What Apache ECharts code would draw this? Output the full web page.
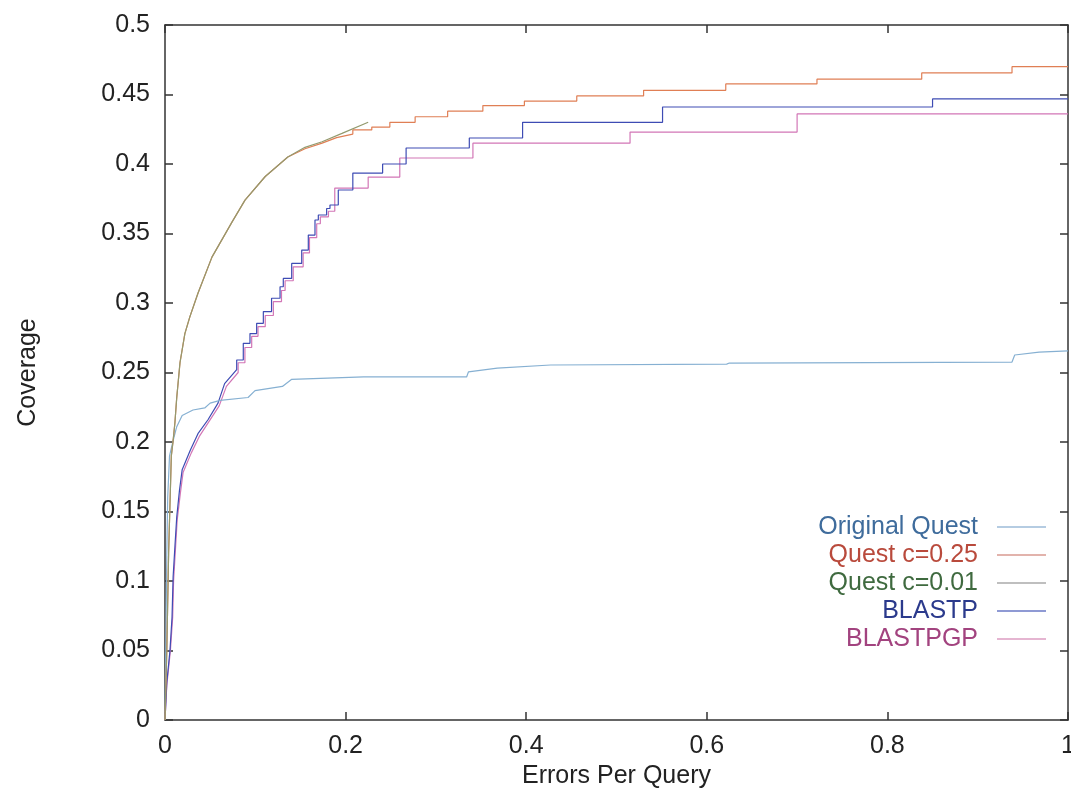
<!DOCTYPE html>
<html>
<head>
<meta charset="utf-8">
<script src="https://cdn.jsdelivr.net/npm/echarts@6/dist/echarts.min.js"></script>
<style>
html,body{margin:0;padding:0;background:#ffffff;}
#chart{width:1071px;height:791px;}
</style>
</head>
<body>
<div id="chart"></div>
<script>
// ---- Data ----
const seriesNames = ["Original Quest", "Quest c=0.25", "Quest c=0.01", "BLASTP", "BLASTPGP"];

// Original Quest: [errors per query, coverage] vertices
const originalQuest = [
  [0,0],[0.001,0.06],[0.002,0.12],[0.003,0.16],[0.005,0.19],[0.009,0.201],[0.013,0.211],
  [0.019,0.219],[0.031,0.223],[0.044,0.2245],[0.05,0.228],[0.061,0.230],[0.092,0.232],
  [0.0997,0.237],[0.13,0.240],[0.14,0.245],[0.22,0.2468],[0.334,0.2468],[0.336,0.2504],
  [0.368,0.2532],[0.427,0.2554],[0.622,0.256],[0.625,0.2568],[0.938,0.2575],[0.941,0.2626],
  [0.968,0.2647],[1.0,0.2655]
];

// Quest c=0.01 (ends near 0.225)
const questC001 = [
  [0,0],[0.002,0.05],[0.004,0.12],[0.007,0.19],[0.009,0.201],[0.011,0.214],[0.013,0.232],
  [0.0166,0.257],[0.022,0.278],[0.0275,0.29],[0.0365,0.307],[0.052,0.333],[0.074,0.358],
  [0.0886,0.374],[0.111,0.391],[0.136,0.405],[0.155,0.412],[0.174,0.416],[0.196,0.422],[0.225,0.430]
];

// Quest c=0.25: smooth start, then a staircase
const questC025Smooth = [
  [0,0],[0.002,0.05],[0.004,0.12],[0.007,0.19],[0.009,0.201],[0.011,0.214],[0.013,0.232],
  [0.0166,0.257],[0.022,0.278],[0.0275,0.29],[0.0365,0.307],[0.052,0.333],[0.074,0.358],
  [0.0886,0.374],[0.111,0.391],[0.136,0.405],[0.155,0.411],[0.174,0.415],[0.19,0.419],[0.208,0.4215]
];
const questC025StepX = [0.208, 0.229, 0.249, 0.277, 0.313, 0.352, 0.398, 0.456, 0.530, 0.621, 0.722, 0.838, 0.938];
const questC025StepY = [0.4245, 0.4266, 0.430, 0.434, 0.438, 0.442, 0.4453, 0.449, 0.453, 0.4576, 0.461, 0.4655, 0.470];

// BLASTP: smooth start, then a staircase (value jumps at x)
const blastpSmooth = [
  [0,0],[0.002,0.027],[0.0055,0.05],[0.0078,0.074],[0.009,0.103],[0.011,0.125],[0.013,0.146],
  [0.016,0.165],[0.019,0.18],[0.028,0.194],[0.0365,0.206],[0.0476,0.216],[0.0587,0.228],[0.066,0.242],[0.0794,0.252]
];
const blastpStepX = [0.0794,0.0867,0.0941,0.1015,0.1089,0.118,0.1274,0.131,0.1403,0.1514,0.1587,0.1661,0.1698,0.179,0.1827,0.1919,0.208,0.241,0.267,0.337,0.396,0.551,0.850];
const blastpStepY = [0.259,0.271,0.278,0.2854,0.2938,0.3034,0.3117,0.3177,0.3285,0.3381,0.3489,0.3597,0.3633,0.368,0.3705,0.3813,0.3935,0.400,0.4115,0.4187,0.430,0.441,0.4468];

// BLASTPGP
const blastpgpSmooth = [
  [0,0],[0.002,0.025],[0.006,0.05],[0.0085,0.074],[0.0095,0.10],[0.0115,0.122],[0.0135,0.144],
  [0.017,0.163],[0.02,0.178],[0.029,0.192],[0.038,0.204],[0.049,0.215],[0.06,0.226],[0.068,0.240],[0.081,0.250]
];
const blastpgpStepX = [0.081,0.0885,0.096,0.103,0.111,0.12,0.129,0.133,0.142,0.153,0.16,0.168,0.172,0.181,0.188,0.225,0.260,0.341,0.515,0.700];
const blastpgpStepY = [0.257,0.268,0.276,0.283,0.291,0.301,0.309,0.316,0.326,0.336,0.347,0.357,0.362,0.366,0.3827,0.3906,0.4043,0.415,0.423,0.436];

const xTickMin = 0, xTickMax = 1, xTickStep = 0.2;
const yTickMin = 0, yTickMax = 0.5, yTickStep = 0.05;

// ---- Build vertex lists ----
function withStairs(smooth, sx, sy, xEnd) {
  const pts = smooth.slice();
  let prev = pts[pts.length - 1][1];
  for (let i = 0; i < sx.length; i++) {
    pts.push([sx[i], prev]);
    pts.push([sx[i], sy[i]]);
    prev = sy[i];
  }
  pts.push([xEnd, prev]);
  return pts;
}
const questC025 = withStairs(questC025Smooth, questC025StepX, questC025StepY, 1.0);
const blastp = withStairs(blastpSmooth, blastpStepX, blastpStepY, 1.0);
const blastpgp = withStairs(blastpgpSmooth, blastpgpStepX, blastpgpStepY, 1.0);

const lineColors = ["#86b0d2", "#e07f55", "#939a6e", "#3e4cb4", "#d276b6"];
const legendLineColors = ["#9dbbd8", "#d99a90", "#aaaaaa", "#6a78c6", "#dc9cc2"];
const textColors = ["#3f6c9c", "#b94a3c", "#3f6a3f", "#2b3a8c", "#a2437f"];
const zOrder = [3, 4, 5, 2, 1];
const dataSets = [originalQuest, questC025, questC001, blastp, blastpgp];

const FONT = "'Liberation Sans', Arial, Helvetica, sans-serif";
const chart = echarts.init(document.getElementById('chart'), null, {renderer: 'canvas'});

const axisLineStyle = {color: '#333', width: 1.5};
const option = {
  backgroundColor: '#ffffff',
  animation: false,
  grid: {left: 165, right: 3, top: 25, bottom: 71, containLabel: false, outerBoundsMode: 'none'},
  legend: {
    orient: 'vertical',
    right: 20,
    top: 508,
    align: 'right',
    icon: 'rect',
    itemWidth: 49,
    itemHeight: 1.5,
    itemGap: 0,
    textStyle: {fontFamily: FONT, fontSize: 25, lineHeight: 28, padding: [0, 14, 0, 0]},
    data: seriesNames.map((n, i) => ({
      name: n,
      textStyle: {color: textColors[i]},
      itemStyle: {color: legendLineColors[i]}
    }))
  },
  xAxis: [{
    type: 'value', min: xTickMin, max: xTickMax, interval: xTickStep, position: 'bottom',
    name: 'Errors Per Query', nameLocation: 'middle', nameGap: 44,
    nameTextStyle: {fontFamily: FONT, fontSize: 25, color: '#222'},
    axisLine: {show: true, onZero: false, lineStyle: axisLineStyle},
    axisTick: {show: true, inside: true, length: 8, lineStyle: axisLineStyle},
    axisLabel: {fontFamily: FONT, fontSize: 25, color: '#222', margin: 14},
    splitLine: {show: false}
  }, {
    type: 'value', min: xTickMin, max: xTickMax, interval: xTickStep, position: 'top',
    axisLine: {show: true, onZero: false, lineStyle: axisLineStyle},
    axisTick: {show: true, inside: true, length: 8, lineStyle: axisLineStyle},
    axisLabel: {show: false}, splitLine: {show: false}
  }],
  yAxis: [{
    type: 'value', min: yTickMin, max: yTickMax, interval: yTickStep, position: 'left',
    name: 'Coverage', nameLocation: 'middle', nameGap: 124,
    nameTextStyle: {fontFamily: FONT, fontSize: 25, color: '#222'},
    axisLine: {show: true, onZero: false, lineStyle: axisLineStyle},
    axisTick: {show: true, inside: true, length: 8, lineStyle: axisLineStyle},
    axisLabel: {fontFamily: FONT, fontSize: 25, color: '#222', margin: 15},
    splitLine: {show: false}
  }, {
    type: 'value', min: yTickMin, max: yTickMax, interval: yTickStep, position: 'right',
    axisLine: {show: true, onZero: false, lineStyle: axisLineStyle},
    axisTick: {show: true, inside: true, length: 8, lineStyle: axisLineStyle},
    axisLabel: {show: false}, splitLine: {show: false}
  }],
  series: seriesNames.map((n, i) => ({
    name: n, type: 'line', xAxisIndex: 0, yAxisIndex: 0,
    data: dataSets[i], showSymbol: false, symbol: 'none',
    color: lineColors[i],
    lineStyle: {color: lineColors[i], width: 1.2},
    z: zOrder[i]
  }))
};
chart.setOption(option);
</script>
</body>
</html>
